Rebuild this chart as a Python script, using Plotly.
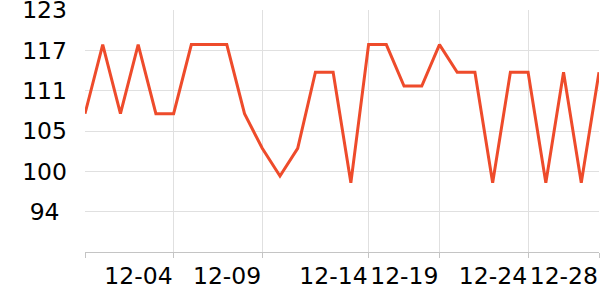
import plotly.graph_objects as go

# Data (index positions along the category axis)
values = [108, 118, 108, 118, 108, 108, 118, 118, 118, 108,
          103, 99, 103, 114, 114, 98, 118, 118, 112, 112,
          118, 114, 114, 98, 114, 114, 98, 114, 98, 114]
x_index = list(range(len(values)))

x_tick_pos = [0, 5, 10, 16, 20, 25, 29]
x_tick_text = ["", "12-04", "12-09", "12-14", "12-19", "12-24", "12-28"]

y_min, y_max = 88, 123
y_tick_vals = [123, 117.1667, 111.3333, 105.5, 99.6667, 93.8333]
y_tick_text = ["123", "117", "111", "105", "100", "94\u00a0"]

fig = go.Figure()
fig.add_trace(go.Scatter(
    x=x_index, y=values, mode="lines",
    line=dict(color="#ee4b2b", width=3),
    cliponaxis=False, hoverinfo="skip",
))

fig.update_layout(
    width=600, height=300,
    margin=dict(l=85, r=1, t=10, b=48),
    paper_bgcolor="white", plot_bgcolor="white",
    showlegend=False,
    font=dict(family="DejaVu Sans", size=23.5, color="#000"),
)
fig.update_xaxes(
    range=[0, 29], automargin=False,
    tickmode="array", tickvals=x_tick_pos, ticktext=x_tick_text,
    ticklabelposition="outside left", tickangle=0,
    ticklabeloverflow="allow", ticklabelstandoff=3,
    showgrid=True, gridcolor="#e0e0e0", gridwidth=1,
    showline=True, linecolor="#c4c4c4", linewidth=1,
    ticks="outside", ticklen=5, tickcolor="#c4c4c4",
    zeroline=False,
)
fig.update_yaxes(
    range=[y_min, y_max], automargin=False,
    tickmode="array", tickvals=y_tick_vals, ticktext=y_tick_text,
    ticklabeloverflow="allow",
    showgrid=True, gridcolor="#e0e0e0", gridwidth=1,
    showline=False, zeroline=False, ticks="",
    ticklabelstandoff=17,
)

fig.write_html("out.html")
